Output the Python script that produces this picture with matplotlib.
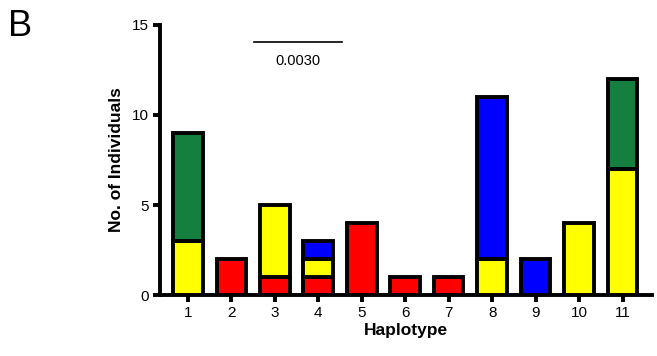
import numpy as np
import matplotlib.pyplot as plt

plt.rcParams['font.family'] = ['Liberation Sans', 'DejaVu Sans']

# data: counts per haplotype, stacked red / yellow / blue / green
haplotypes = ['1', '2', '3', '4', '5', '6', '7', '8', '9', '10', '11']
red = [0, 2, 1, 1, 4, 1, 1, 0, 0, 0, 0]
yellow = [3, 0, 4, 1, 0, 0, 0, 2, 0, 4, 7]
blue = [0, 0, 0, 1, 0, 0, 0, 9, 2, 0, 0]
green = [6, 0, 0, 0, 0, 0, 0, 0, 0, 0, 5]

series = [red, yellow, blue, green]
colors = ['#ff0000', '#ffff00', '#0000ff', '#157f3f']

fig = plt.figure(figsize=(6.57, 3.56), dpi=100)
ax = fig.add_axes([0.2435, 0.171, 0.7485, 0.759])

x = np.arange(1, len(haplotypes) + 1)
bottom = np.zeros(len(haplotypes))
for vals, c in zip(series, colors):
    vals = np.array(vals, dtype=float)
    mask = vals > 0
    ax.bar(x[mask], vals[mask], bottom=bottom[mask], width=0.68, color=c,
           edgecolor='black', linewidth=2.8, zorder=3)
    bottom += vals

ax.set_xlim(0.36, 11.67)
ax.set_ylim(0, 15)
ax.set_yticks([0, 5, 10, 15])
ax.set_xticks(x)
ax.set_xticklabels(haplotypes)
ax.spines['top'].set_visible(False)
ax.spines['right'].set_visible(False)
ax.spines['left'].set_linewidth(2.8)
ax.spines['bottom'].set_linewidth(2.8)
ax.tick_params(axis='both', width=2.8, length=5, labelsize=11, pad=3)
ax.set_xlabel('Haplotype', fontsize=12.5, fontweight='bold', labelpad=2)
ax.set_ylabel('No. of Individuals', fontsize=12.5, fontweight='bold', labelpad=6)

# scale bar
ax.plot([2.52, 4.54], [14.05, 14.05], color='black', lw=1.2, clip_on=False)
ax.text(3.53, 13.0, '0.0030', ha='center', va='center', fontsize=10.5)

fig.text(0.012, 0.925, 'B', fontsize=26, ha='left', va='center')

plt.savefig('out.png', dpi=100)
